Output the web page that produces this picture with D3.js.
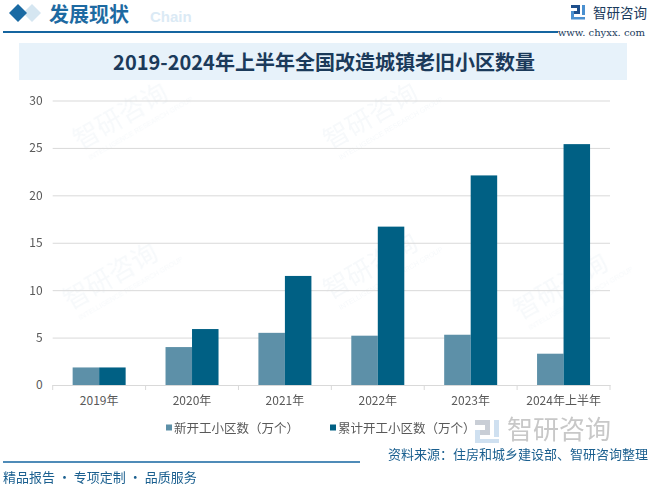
<!DOCTYPE html>
<html><head><meta charset="utf-8">
<script src="https://cdn.jsdelivr.net/npm/d3@7"></script>
<style>body{margin:0;background:#fff}svg{display:block}</style>
</head><body>
<svg id="c" width="651" height="487"></svg>
<script>
const categories = ["2019年","2020年","2021年","2022年","2023年","2024年上半年"];
const newStarted = [1.85, 4.0, 5.5, 5.2, 5.3, 3.3];
const cumulative = [1.85, 5.9, 11.5, 16.7, 22.1, 25.4];
const seriesNames = ["新开工小区数（万个）","累计开工小区数（万个）"];
const yTicks = [0,5,10,15,20,25,30];
const colors = ["#5d90a8","#006084"];
const titleText = "2019-2024年上半年全国改造城镇老旧小区数量";

const svg = d3.select("#c");
const F = "'Noto Sans CJK SC','Noto Sans',sans-serif";

// header
svg.append("path").attr("d","M32,4 L41,13 L32,22 L23,13 Z").attr("fill","#d5e6f1");
svg.append("path").attr("d","M18,4 L27,13 L18,22 L9,13 Z").attr("fill","#1a6aa3");
svg.append("text").attr("x",150).attr("y",22).attr("font-family","Arial,sans-serif").attr("font-weight","bold")
  .attr("font-size",15).attr("fill","#dbeaf5").text("Chain");
svg.append("text").attr("x",49).attr("y",22).attr("font-family",F).attr("font-weight","bold")
  .attr("font-size",20).attr("fill","#1d6aa2").text("发展现状");
svg.append("line").attr("x1",3).attr("x2",558).attr("y1",32).attr("y2",32).attr("stroke","#1565a0").attr("stroke-width",2);
svg.append("text").attr("x",645).attr("y",36).attr("text-anchor","end").attr("font-family","'DejaVu Serif','Liberation Serif',serif")
  .attr("font-size",10).attr("fill","#1a3a5c").text("www. chyxx. com");
// logo icon
const lg = svg.append("g").attr("transform","translate(571,5)");
lg.append("rect").attr("x",0).attr("y",0).attr("width",9).attr("height",3).attr("fill","#1d4f8c");
lg.append("rect").attr("x",6).attr("y",0).attr("width",3).attr("height",8).attr("fill","#1d4f8c");
lg.append("rect").attr("x",0).attr("y",6).attr("width",9).attr("height",3).attr("fill","#1d4f8c");
lg.append("rect").attr("x",0).attr("y",6).attr("width",3).attr("height",8).attr("fill","#4a90d0");
lg.append("rect").attr("x",0).attr("y",12).attr("width",14).attr("height",2.5).attr("fill","#4a90d0");
lg.append("rect").attr("x",11).attr("y",0).attr("width",3).attr("height",10).attr("fill","#4a90d0");
svg.append("text").attr("x",593).attr("y",18).attr("font-family",F).attr("font-size",13.5).attr("fill","#1a3a5c").text("智研咨询");

// title box
svg.append("rect").attr("x",19).attr("y",43).attr("width",608).attr("height",37).attr("fill","#e7f2fa");
svg.append("text").attr("x",324).attr("y",70).attr("text-anchor","middle").attr("font-family",F).attr("font-weight","bold")
  .attr("font-size",20).attr("fill","#1b3a5a").text(titleText);

// watermarks (faint)
const wm = svg.append("g").attr("opacity",0.5);
[[80,150],[330,150],[70,310],[330,300],[520,320]].forEach(([x,y])=>{
  const g = wm.append("g").attr("transform",`translate(${x},${y}) rotate(-30)`);
  g.append("text").attr("x",0).attr("y",0).attr("font-family",F).attr("font-size",26).attr("fill","#eef3f7").text("智研咨询");
  g.append("text").attr("x",4).attr("y",14).attr("font-family","Arial").attr("font-size",7).attr("fill","#eef3f7").text("INTELLIGENCE RESEARCH GROUP");
});

// plot
const m = {l:52.7, r:610, t:100.5, b:385};
const x = d3.scaleBand().domain(categories).range([m.l,m.r]).paddingInner(0).paddingOuter(0);
const y = d3.scaleLinear().domain([0,30]).range([m.b,m.t]);
const barW = 26.5;

const yAxis = svg.append("g").attr("transform",`translate(${m.l},0)`)
  .call(d3.axisLeft(y).tickValues(yTicks).tickSize(-(m.r-m.l)).tickPadding(10));
yAxis.select(".domain").remove();
yAxis.selectAll(".tick line").attr("stroke","#d9d9d9").attr("stroke-width",1);
yAxis.selectAll(".tick text").attr("font-family",F).attr("font-size",12).attr("fill","#595959");

const rows = categories.map((c,i)=>({c, v:[newStarted[i], cumulative[i]]}));
const grp = svg.append("g").selectAll("g").data(rows).join("g")
  .attr("transform",d=>`translate(${x(d.c)+x.bandwidth()/2},0)`);
grp.selectAll("rect").data(d=>d.v).join("rect")
  .attr("x",(d,j)=> j===0 ? -barW : 0)
  .attr("width",barW)
  .attr("y",d=>y(d)).attr("height",d=>y(0)-y(d))
  .attr("fill",(d,j)=>colors[j]);

const xAxis = svg.append("g").attr("transform",`translate(0,${m.b})`)
  .call(d3.axisBottom(x).tickSize(0).tickPadding(11));
xAxis.select(".domain").attr("stroke","#d9d9d9");
xAxis.selectAll(".tick text").attr("font-family",F).attr("font-size",12).attr("fill","#595959");
svg.append("g").selectAll("line").data(d3.range(categories.length+1)).join("line")
  .attr("x1",i=>m.l+i*x.bandwidth()).attr("x2",i=>m.l+i*x.bandwidth())
  .attr("y1",m.b).attr("y2",m.b+5).attr("stroke","#d9d9d9");

// legend
const legX = [166, 330];
seriesNames.forEach((n,i)=>{
  svg.append("rect").attr("x",legX[i]).attr("y",424.5).attr("width",6).attr("height",6).attr("fill",colors[i]);
  svg.append("text").attr("x",legX[i]+8).attr("y",432.5).attr("font-family",F).attr("font-size",12.5).attr("fill","#595959").text(n);
});

// bottom watermark logo
const bw = svg.append("g").attr("transform","translate(475,420)");
bw.append("rect").attr("x",0).attr("y",0).attr("width",14).attr("height",5).attr("fill","#c9ced6");
bw.append("rect").attr("x",10).attr("y",0).attr("width",5).attr("height",13).attr("fill","#c9ced6");
bw.append("rect").attr("x",0).attr("y",10).attr("width",15).attr("height",5).attr("fill","#c9ced6");
bw.append("rect").attr("x",0).attr("y",10).attr("width",5).attr("height",13).attr("fill","#cfe0f0");
bw.append("rect").attr("x",0).attr("y",19).attr("width",24).attr("height",4).attr("fill","#cfe0f0");
bw.append("rect").attr("x",19).attr("y",0).attr("width",5).attr("height",17).attr("fill","#cfe0f0");
svg.append("text").attr("x",507).attr("y",439).attr("font-family",F).attr("font-size",26).attr("fill","#c8c8c8").text("智研咨询");

// footer
svg.append("line").attr("x1",3).attr("x2",360).attr("y1",462).attr("y2",462).attr("stroke","#1565a0").attr("stroke-width",1.5);
svg.append("text").attr("x",648).attr("y",459).attr("text-anchor","end").attr("font-family",F).attr("font-size",13).attr("fill","#1a5f8f").text("资料来源：住房和城乡建设部、智研咨询整理");
svg.append("text").attr("x",3).attr("y",482).attr("font-family",F).attr("font-size",13).attr("fill","#1a5f8f").text("精品报告 · 专项定制 · 品质服务");
</script>
</body></html>
